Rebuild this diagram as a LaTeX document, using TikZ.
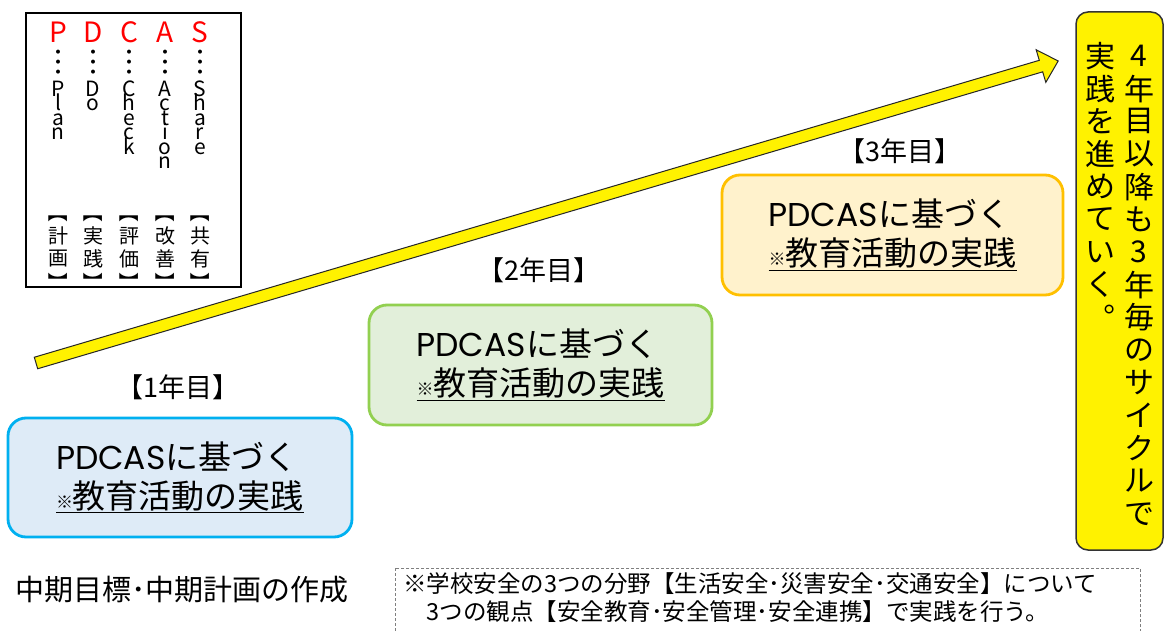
\documentclass[tikz,border=0pt]{standalone}
\usepackage{fontspec}
\setmainfont{Noto Sans CJK JP}
\newfontfamily\geo{Poppins}
\definecolor{blueline}{HTML}{00B0F0}
\definecolor{bluefill}{HTML}{DEEBF7}
\definecolor{greenline}{HTML}{92D050}
\definecolor{greenfill}{HTML}{E2EFDA}
\definecolor{orangeline}{HTML}{FFC000}
\definecolor{orangefill}{HTML}{FFF2CC}
\definecolor{notegray}{HTML}{7F7F7F}
\newcommand{\smallkome}{{\fontsize{17}{17}\selectfont ※}}
\newcommand{\legendcol}[5]{%
  \node[redletter] (red#2) at (#1,43) {#2};
  \node[legenddot] (dots#2) at (#1,62) {︙};
  \foreach \ch [count=\i] in {#3}{\node[legendletter] (let#2\i) at (#1,{96.5+14.5*(\i-1)}) {\ch};}
  \node[legendkanji, rotate=-90] (open#2) at (#1,213) {【};
  \node[legendkanji] (ka#2) at (#1,236) {#4};
  \node[legendkanji] (kb#2) at (#1,259) {#5};
  \node[legendkanji, rotate=-90] (close#2) at (#1,282) {】};
}
\begin{document}
\begin{tikzpicture}[x=1pt,y=-1pt,
  stagebox/.style={rounded corners=18pt, line width=2.8pt, align=left, inner sep=0pt,
    font=\fontsize{33}{39}\selectfont},
  yearlabel/.style={font=\fontsize{27}{27}\selectfont, inner sep=0pt},
  redletter/.style={text=red, font=\fontsize{28}{28}\selectfont, inner sep=0pt, anchor=base},
  legendletter/.style={font=\fontsize{21}{21}\selectfont, inner sep=0pt, anchor=base, text height=12pt, text depth=0pt},
  legenddot/.style={font=\fontsize{30}{30}\selectfont, inner sep=0pt},
  legendkanji/.style={font=\fontsize{20}{20}\selectfont, inner sep=0pt},
  vchar/.style={font=\fontsize{30}{30}\selectfont, inner sep=0pt},
]
\useasboundingbox (0,0) rectangle (1167,631);
\fill[white] (0,0) rectangle (1167,631);

% legend box
\node[draw=black, line width=2.5pt, minimum width=215pt, minimum height=274pt, inner sep=0pt] (legend) at (133.5,150) {};
\legendcol{58}{P}{P,l,a,n}{計}{画}
\legendcol{93}{D}{D,o}{実}{践}
\legendcol{129}{C}{C,h,e,c,k}{評}{価}
\legendcol{165}{A}{A,c,t,i,o,n}{改}{善}
\legendcol{200}{S}{S,h,a,r,e}{共}{有}

% big arrow
\begin{scope}[shift={(36,363)}, rotate=16.46]
  \coordinate (arrowtail) at (0,0);
  \coordinate (arrowtip) at (1066,0);
  \filldraw[fill=yellow, draw=black!85, line width=1pt]
    (0,6) -- (1048,6) -- (1048,17) -- (arrowtip) -- (1048,-17) -- (1048,-6) -- (0,-6) -- cycle;
\end{scope}

% stages
\node[yearlabel] (year1) at (178,387) {【1年目】};
\node[yearlabel] (year2) at (539,270) {【2年目】};
\node[yearlabel] (year3) at (900,151) {【3年目】};

\node[stagebox, draw=blueline, fill=bluefill, minimum width=344pt, minimum height=119pt] (stage1) at (180,477.5)
  {{\geo PDCAS}に基づく\\\underline{\smallkome 教育活動の実践}};
\node[stagebox, draw=greenline, fill=greenfill, minimum width=343pt, minimum height=120pt] (stage2) at (540.5,365)
  {{\geo PDCAS}に基づく\\\underline{\smallkome 教育活動の実践}};
\node[stagebox, draw=orangeline, fill=orangefill, minimum width=341pt, minimum height=120pt] (stage3) at (892.5,235)
  {{\geo PDCAS}に基づく\\\underline{\smallkome 教育活動の実践}};

% final yellow box
\node[draw=black!80, fill=yellow, rounded corners=12pt, line width=1.5pt, minimum width=87pt, minimum height=538pt, inner sep=0pt] (finalbox) at (1119.5,281) {};
\foreach \ch [count=\i] in {4,年,目,以,降,も,3,年,毎,の,サ,イ,ク,ル,で}{\node[vchar] (r\i) at (1139,{56+32.7*(\i-1)}) {\ch};}
\foreach \ch [count=\i] in {実,践,を,進,め,て,い,く,︒}{\node[vchar] (l\i) at (1100,{56+32.7*(\i-1)}) {\ch};}

% bottom
\node[anchor=west, inner sep=0pt, font=\fontsize{29}{29}\selectfont] (plan) at (15,590) {中期目標･中期計画の作成};
\draw[notegray, dash pattern=on 3pt off 2pt, line width=1pt] (395,568) rectangle (1140,660);
\node[anchor=west, align=left, inner sep=0pt, font=\fontsize{23.5}{28}\selectfont] (notetext) at (403,598)
  {※学校安全の3つの分野【生活安全･災害安全･交通安全】について\\　3つの観点【安全教育･安全管理･安全連携】で実践を行う。};
\end{tikzpicture}
\end{document}
